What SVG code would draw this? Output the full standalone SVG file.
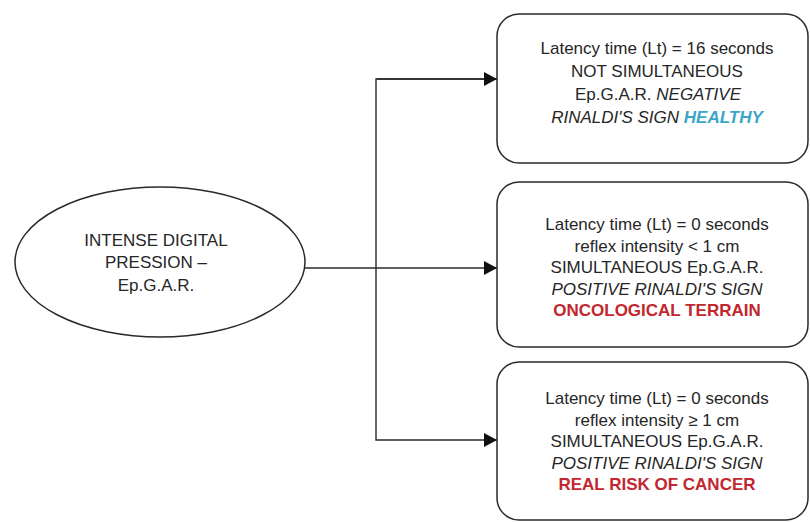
<svg xmlns="http://www.w3.org/2000/svg" width="810" height="523" viewBox="0 0 810 523">
<style>
.shape{fill:#fff;stroke:#2a2a2a;stroke-width:1.5}
.t{font-family:"Liberation Sans",Arial,sans-serif;font-size:17px;fill:#262626;text-anchor:middle}
.i{font-style:italic}
.red{font-weight:bold;fill:#c2262e}
.blue{font-weight:bold;font-style:italic;fill:#3aa6c8}
.conn{fill:none;stroke:#2a2a2a;stroke-width:1.4}
</style>
<defs>
<marker id="arr" markerUnits="userSpaceOnUse" markerWidth="14" markerHeight="14" refX="13" refY="7" orient="auto">
<path d="M0,0 L13,7 L0,14 Z" fill="#111"/>
</marker>
</defs>
<rect width="810" height="523" fill="#fff"/>
<g id="connectors">
<line class="conn" x1="304" y1="268" x2="497" y2="268" marker-end="url(#arr)"/>
<polyline class="conn" points="497,79 376,79 376,440 497,440" marker-end="url(#arr)"/>
<line class="conn" x1="377" y1="79" x2="497" y2="79" marker-end="url(#arr)"/>
</g>
<g id="node-start">
<ellipse class="shape" cx="160" cy="262" rx="145" ry="75"/>
<text class="t" x="156" y="246">INTENSE DIGITAL</text>
<text class="t" x="156" y="268">PRESSION –</text>
<text class="t" x="156" y="291">Ep.G.A.R.</text>
</g>
<g id="node-healthy">
<rect class="shape" x="497" y="14" width="311" height="149" rx="22"/>
<text class="t" x="657" y="54">Latency time (Lt) = 16 seconds</text>
<text class="t" x="657" y="77">NOT SIMULTANEOUS</text>
<text class="t" x="658" y="100">Ep.G.A.R.  <tspan class="i">NEGATIVE</tspan></text>
<text class="t" x="657" y="123"><tspan class="i">RINALDI'S SIGN </tspan><tspan class="blue">HEALTHY</tspan></text>
</g>
<g id="node-oncological">
<rect class="shape" x="497" y="182" width="311" height="165" rx="22"/>
<text class="t" x="657" y="230">Latency time (Lt) = 0 seconds</text>
<text class="t" x="657" y="251.5">reflex intensity &lt; 1 cm</text>
<text class="t" x="657" y="273">SIMULTANEOUS Ep.G.A.R.</text>
<text class="t i" x="657" y="294.5">POSITIVE RINALDI'S SIGN</text>
<text class="t red" x="657" y="316">ONCOLOGICAL TERRAIN</text>
</g>
<g id="node-cancer">
<rect class="shape" x="497" y="362" width="311" height="158" rx="22"/>
<text class="t" x="657" y="404">Latency time (Lt) = 0 seconds</text>
<text class="t" x="657" y="425.5">reflex intensity ≥ 1 cm</text>
<text class="t" x="657" y="447">SIMULTANEOUS Ep.G.A.R.</text>
<text class="t i" x="657" y="468.5">POSITIVE RINALDI'S SIGN</text>
<text class="t red" x="657" y="490">REAL RISK OF CANCER</text>
</g>
</svg>
